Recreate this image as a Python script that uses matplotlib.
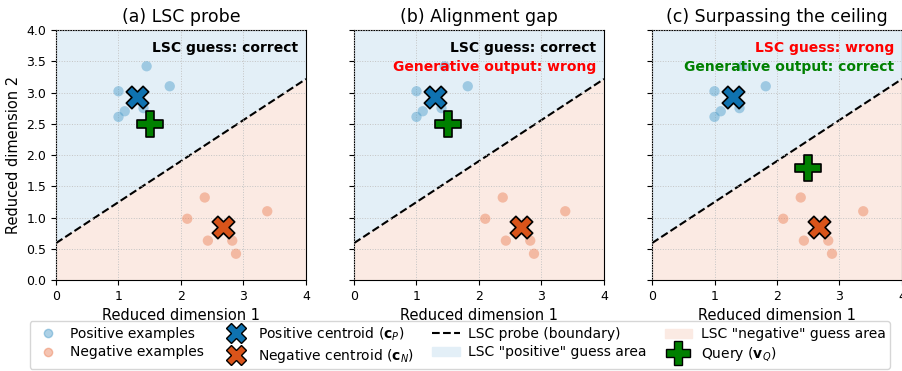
import numpy as np
import matplotlib.pyplot as plt
from matplotlib.lines import Line2D
from matplotlib.patches import Patch

# data
pos_x = [1.00, 1.45, 1.82, 1.10, 1.00, 1.40]
pos_y = [3.02, 3.42, 3.10, 2.70, 2.61, 2.75]
neg_x = [2.38, 2.10, 3.38, 2.43, 2.82, 2.88]
neg_y = [1.32, 0.98, 1.10, 0.63, 0.63, 0.42]
query_x = [1.5, 1.5, 2.5]
query_y = [2.5, 2.5, 1.8]
titles = ["(a) LSC probe", "(b) Alignment gap", "(c) Surpassing the ceiling"]
notes = [
    [("LSC guess: correct", "black")],
    [("LSC guess: correct", "black"), ("Generative output: wrong", "red")],
    [("LSC guess: wrong", "red"), ("Generative output: correct", "green")],
]

pos_pt = "#4a9bc9"
neg_pt = "#eb7e54"
pos_c = "#0f72b0"
neg_c = "#d9541a"
pos_bg = "#e3eff7"
neg_bg = "#fbeae3"

cp = np.array([np.mean(pos_x), np.mean(pos_y)])
cn = np.array([np.mean(neg_x), np.mean(neg_y)])
mid = (cp + cn) / 2
d = cp - cn
slope = -d[0] / d[1]
xs = np.array([0, 4])
ys = mid[1] + slope * (xs - mid[0])

fig = plt.figure(figsize=(9.03, 3.71), dpi=100)
w, h = 250 / 903, 250 / 371
lefts = [56 / 903, 354 / 903, 652 / 903]
bottom = 1 - 280 / 371

for i in range(3):
    ax = fig.add_axes([lefts[i], bottom, w, h])
    ax.fill_between(xs, ys, 4, color=pos_bg, zorder=0)
    ax.fill_between(xs, 0, ys, color=neg_bg, zorder=0)
    ax.plot(xs, ys, "--", color="black", lw=1.5, zorder=2)
    ax.scatter(pos_x, pos_y, s=55, color=pos_pt, alpha=0.45, edgecolors="none", zorder=3)
    ax.scatter(neg_x, neg_y, s=55, color=neg_pt, alpha=0.45, edgecolors="none", zorder=3)
    ax.scatter(*cp, marker="X", s=260, color=pos_c, edgecolors="black", linewidths=1.2, zorder=4)
    ax.scatter(*cn, marker="X", s=260, color=neg_c, edgecolors="black", linewidths=1.2, zorder=4)
    ax.scatter(query_x[i], query_y[i], marker="P", s=330, color="green",
               edgecolors="black", linewidths=1.2, zorder=5)
    ax.set_xlim(0, 4)
    ax.set_ylim(0, 4)
    ax.set_xticks([0, 1, 2, 3, 4])
    ax.set_yticks(np.arange(0, 4.01, 0.5))
    ax.grid(True, linestyle=":", color="#c4c4c4", lw=0.7)
    ax.set_axisbelow(False)
    ax.tick_params(labelsize=9)
    ax.set_title(titles[i], fontsize=12.5)
    ax.set_xlabel("Reduced dimension 1", fontsize=10.5)
    if i == 0:
        ax.set_ylabel("Reduced dimension 2", fontsize=10.5)
    else:
        ax.set_yticklabels([])
    for j, (txt, col) in enumerate(notes[i]):
        ax.text(0.97, 0.93 - j * 0.078, txt, transform=ax.transAxes, ha="right",
                va="center", fontsize=10, fontweight="bold", color=col, zorder=6)

handles = [
    Line2D([], [], marker="o", ls="none", color=pos_pt, alpha=0.45, markersize=6),
    Line2D([], [], marker="o", ls="none", color=neg_pt, alpha=0.45, markersize=6),
    Line2D([], [], marker="X", ls="none", color=pos_c, markeredgecolor="black", markersize=15),
    Line2D([], [], marker="X", ls="none", color=neg_c, markeredgecolor="black", markersize=15),
    Line2D([], [], ls="--", color="black", lw=1.5),
    Patch(color=pos_bg),
    Patch(color=neg_bg),
    Line2D([], [], marker="P", ls="none", color="green", markeredgecolor="black", markersize=17),
]
labels = [
    "Positive examples", "Negative examples",
    r"Positive centroid ($\mathbf{c}_P$)", r"Negative centroid ($\mathbf{c}_N$)",
    "LSC probe (boundary)", 'LSC "positive" guess area',
    'LSC "negative" guess area', r"Query ($\mathbf{v}_Q$)",
]
fig.legend(handles, labels, loc="center", bbox_to_anchor=(0.509, 0.07), ncol=4,
           fontsize=10, frameon=True, columnspacing=1.3, handletextpad=0.6,
           borderpad=0.3, labelspacing=0.3)

fig.savefig("out.png", dpi=100)
